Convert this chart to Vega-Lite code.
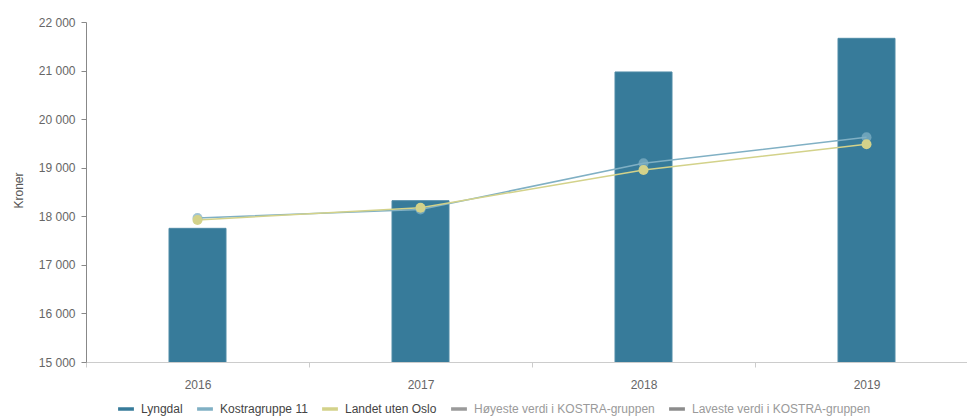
{
  "$schema": "https://vega.github.io/schema/vega-lite/v6.json",
  "width": 892,
  "height": 340,
  "autosize": {"type": "none"},
  "padding": {"left": 86, "top": 22, "right": 0, "bottom": 55},
  "background": "white",
  "config": {
    "view": {"stroke": null},
    "font": "Liberation Sans",
    "axis": {"labelFont": "Liberation Sans", "titleFont": "Liberation Sans", "labelFontSize": 12, "labelColor": "#666666", "titleColor": "#555555", "titleFontSize": 12, "titleFontWeight": "normal", "domainColor": "#bbbbbb", "tickColor": "#bbbbbb"},
    "legend": {"labelFont": "Liberation Sans", "labelFontSize": 12}
  },
  "data": {
    "values": [
      {"year": "2016", "serie": "Lyngdal", "value": 17752},
      {"year": "2017", "serie": "Lyngdal", "value": 18321},
      {"year": "2018", "serie": "Lyngdal", "value": 20971},
      {"year": "2019", "serie": "Lyngdal", "value": 21664},
      {"year": "2016", "serie": "Kostragruppe 11", "value": 17965},
      {"year": "2017", "serie": "Kostragruppe 11", "value": 18140},
      {"year": "2018", "serie": "Kostragruppe 11", "value": 19091},
      {"year": "2019", "serie": "Kostragruppe 11", "value": 19626},
      {"year": "2016", "serie": "Landet uten Oslo", "value": 17924},
      {"year": "2017", "serie": "Landet uten Oslo", "value": 18177},
      {"year": "2018", "serie": "Landet uten Oslo", "value": 18953},
      {"year": "2019", "serie": "Landet uten Oslo", "value": 19482}
    ]
  },
  "encoding": {
    "x": {"field": "year", "type": "nominal", "title": null,
      "scale": {"paddingInner": 0, "paddingOuter": 0},
      "axis": {"labelAngle": 0, "tickBand": "extent", "labelPadding": 12, "tickSize": 5, "domainColor": "#cccccc", "tickColor": "#cccccc"}},
    "y": {"field": "value", "type": "quantitative", "title": "Kroner",
      "scale": {"domain": [15000, 22000], "zero": false, "nice": false},
      "axis": {"values": [15000, 16000, 17000, 18000, 19000, 20000, 21000, 22000], "grid": false, "tickSize": 5, "labelPadding": 6, "domainColor": "#888888", "tickColor": "#888888",
        "labelExpr": "replace(format(datum.value, ','), ',', ' ')",
        "titleX": -68, "titleY": 168, "titleAlign": "center", "titleBaseline": "middle", "titleAngle": 270}},
    "color": {"field": "serie", "type": "nominal",
      "scale": {"domain": ["Lyngdal", "Kostragruppe 11", "Landet uten Oslo", "Høyeste verdi i KOSTRA-gruppen", "Laveste verdi i KOSTRA-gruppen"],
        "range": ["#377b9a", "#80b0c4", "#d3d28a", "#9a9a9a", "#8c8c8c"]},
      "legend": {"title": null, "orient": "none", "direction": "horizontal", "legendX": 30, "legendY": 377,
        "symbolType": "stroke", "symbolStrokeWidth": 3.5, "symbolSize": 250, "labelOffset": 5, "columnPadding": 7, "labelLimit": 0,
        "labelColor": "#444444",
        "encode": {
          "symbols": {"update": {"stroke": {"scale": "color", "field": "value"}}},
          "labels": {"update": {"fill": {"signal": "indexof(datum.value, 'KOSTRA') >= 0 ? '#9a9a9a' : '#444444'"}}}}}}
  },
  "layer": [
    {
      "transform": [{"filter": "datum.serie == 'Lyngdal'"}],
      "mark": {"type": "bar", "size": 57, "stroke": "#4f8ba6", "strokeWidth": 1, "clip": true}
    },
    {
      "transform": [{"filter": "datum.serie != 'Lyngdal'"}],
      "mark": {"type": "line", "strokeWidth": 1.5}
    },
    {
      "transform": [{"filter": "datum.serie == 'Kostragruppe 11'"}],
      "mark": {"type": "point", "filled": true, "size": 100, "opacity": 0.75}
    },
    {
      "transform": [{"filter": "datum.serie == 'Landet uten Oslo'"}],
      "mark": {"type": "point", "filled": true, "size": 100, "opacity": 1}
    }
  ]
}
